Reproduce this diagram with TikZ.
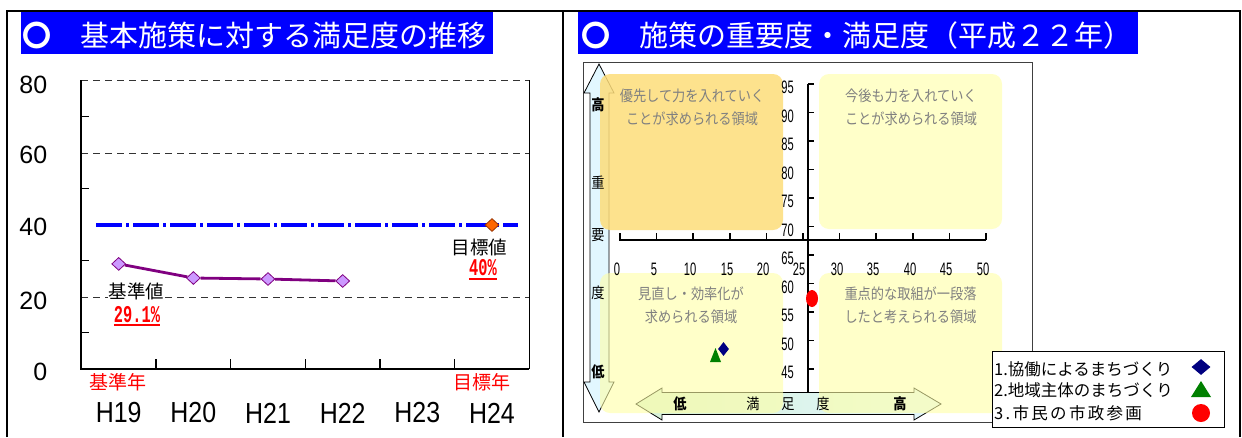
\documentclass[tikz,border=0pt]{standalone}
\usepackage{fontspec}
\setmainfont{Liberation Sans}
\newfontfamily\jpfont{Noto Sans CJK JP}
\newfontfamily\jpnarrow{Noto Sans CJK JP}[FakeStretch=0.88]
\newfontfamily\numnarrow{Liberation Sans}[FakeStretch=0.62]
\newfontfamily\numtall{Liberation Sans}[FakeStretch=0.86]
\newfontfamily\pctfont{Liberation Mono}[FakeStretch=0.64]
\usetikzlibrary{shapes.geometric,calc}
\newcommand\setfs[1]{\fontsize{#1}{#1}\selectfont}
\definecolor{titleblue}{HTML}{0000FF}
\definecolor{plum}{HTML}{800080}
\definecolor{lilac}{HTML}{CC99FF}
\definecolor{tgtorange}{HTML}{FF6600}
\definecolor{tgtedge}{HTML}{993300}
\definecolor{qorange}{HTML}{FDDD7A}
\definecolor{qyellow}{HTML}{FFFFA6}
\definecolor{qtext}{HTML}{808080}
\definecolor{navy}{HTML}{000080}
\definecolor{dgreen}{HTML}{008000}
\definecolor{arrowcyan}{HTML}{E2F7FF}
\definecolor{arrowgreen}{HTML}{D6F0D6}
\definecolor{ulred}{HTML}{FF0000}
\tikzset{
  frame/.style={line width=2pt},
  titlebox/.style={fill=titleblue, inner sep=0, anchor=north west},
  titletext/.style={text=white, inner sep=0, anchor=west},
  gridline/.style={draw=black!80, line width=0.9pt, dash pattern=on 7pt off 5pt},
  target/.style={draw=titleblue, line width=3.2pt, dash pattern=on 26pt off 4pt on 3pt off 4pt},
  ylab/.style={font=\setfs{25}, anchor=east, inner sep=0},
  hlab/.style={font=\numtall\setfs{29}, inner sep=0},
  redjp/.style={font=\jpfont\setfs{19}, text=red, inner sep=0},
  blackjp/.style={font=\jpfont\setfs{18.5}, inner sep=1pt},
  pct/.style={font=\pctfont\bfseries\setfs{24}, text=red, inner sep=0},
  uline/.style={draw=ulred, line width=2pt},
  pdiam/.style={diamond, draw=plum, fill=lilac, line width=0.8pt, minimum width=14pt, minimum height=13pt, inner sep=0},
  odiam/.style={diamond, draw=tgtedge, fill=tgtorange, line width=0.8pt, minimum width=14pt, minimum height=13pt, inner sep=0},
  qbox/.style={rounded corners=10pt, fill opacity=0.6},
  qtxt/.style={font=\jpnarrow\fontsize{15}{23}\selectfont, text=qtext, align=center, inner sep=0},
  alab/.style={font=\jpnarrow\setfs{15}, inner sep=0},
  numlab/.style={font=\numnarrow\setfs{18}, inner sep=0},
  legtxt/.style={font=\jpfont\setfs{16.5}, anchor=west, inner sep=0},
}
\begin{document}
\begin{tikzpicture}[x=1pt,y=-1pt]
\useasboundingbox (0,0) rectangle (1242,437);
\fill[white] (0,0) rectangle (1242,437);
% frame
\draw[frame] (7,437) -- (7,11) -- (1240,11) -- (1240,437);
\draw[frame] (563,11) -- (563,437);

% ---------------- left panel ----------------
\node[titlebox, minimum width=472pt, minimum height=42pt] (lbox) at (21,12) {};
\node[titletext, font=\jpfont\setfs{29}] (ltitle) at (22,35) {{\bfseries 〇}　基本施策に対する満足度の推移};

\draw[gridline] (81.4,80) -- (529.3,80);
\draw[gridline] (81.4,153.3) -- (529.3,153.3);
\draw[gridline] (81.4,297.3) -- (529.3,297.3);
\draw[target] (96,225) -- (518,225);
\draw[line width=2pt] (81.4,80) -- (81.4,368.7) -- (529.3,368.7);
\draw[line width=1.3pt] (529.3,80) -- (529.3,368.7);
\foreach \yy in {116.7,188.7,260.7,332.7} \draw[line width=1.2pt] (81.4,\yy) -- (88.6,\yy);
\foreach \i in {1,...,5} \draw[line width=1.2pt] ({81.4+74.65*\i},368.7) -- ({81.4+74.65*\i},359);

\node[ylab] (y80) at (47.5,85) {80};
\node[ylab] (y60) at (47.5,154.5) {60};
\node[ylab] (y40) at (47.5,227) {40};
\node[ylab] (y20) at (47.5,301) {20};
\node[ylab] (y0) at (47.5,372) {0};

\node[pdiam] (d19) at (118.7,263.9) {};
\node[pdiam] (d20) at (193.4,278) {};
\node[pdiam] (d21) at (268,279) {};
\node[pdiam] (d22) at (342.7,281) {};
\draw[plum, line width=2.8pt] (d19) -- (d20) -- (d21) -- (d22);
\node[odiam] (d24) at (492,225) {};

\node[blackjp, fill=white] (kijunchi) at (136.5,291.5) {基準値};
\node[pct] (v291) at (137,314.5) {29.1\%};
\draw[uline] ($(v291.south west)+(0,2.5)$) -- ($(v291.south east)+(0,2.5)$);
\node[blackjp] (mokuhyochi) at (479.5,247) {目標値};
\node[pct] (v40) at (483,268) {40\%};
\draw[uline] ($(v40.south west)+(0,2.5)$) -- ($(v40.south east)+(0,2.5)$);

\node[redjp] (kijunnen) at (118,382.5) {基準年};
\node[redjp] (mokuhyonen) at (482,382.5) {目標年};

\foreach \lab [count=\i from 0] in {H19,H20,H21,H22,H23,H24}
  \node[hlab] (hx\i) at ({118.7+74.65*\i},413) {\lab};

% ---------------- right panel ----------------
\node[titlebox, minimum width=560pt, minimum height=42pt] (rbox) at (578,12) {};
\node[titletext, font=\jpfont\setfs{29}] (rtitle) at (581,35) {{\bfseries 〇}　施策の重要度・満足度（平成２２年）};

\draw[draw=black!75, line width=1pt, fill=white] (583,62) rectangle (1032,422);

% vertical double arrow
\draw[fill=arrowcyan, line width=0.8pt] (599,64) -- (614,93) -- (609,93) -- (609,382) -- (614,382) -- (599,412) -- (584,382) -- (590,382) -- (590,93) -- (584,93) -- cycle;

% axes
\draw[line width=2.2pt] (619,240) -- (986,240);
\foreach \i in {0,...,10} \draw[line width=1.5pt] ({620+36.6*\i},240) -- ({620+36.6*\i},233);
\draw[line width=2.2pt] (808,84) -- (808,397);
\foreach \j in {0,...,11} \draw[line width=1.5pt] (808,{84+28.5*\j}) -- (814,{84+28.5*\j});

% horizontal double arrow
\path[draw=black, line width=0.8pt, left color=arrowgreen, right color=arrowcyan]
  (636,404) -- (662,388) -- (662,392.5) -- (914,392.5) -- (914,388) -- (941,404) -- (914,420) -- (914,414.5) -- (662,414.5) -- (662,420) -- cycle;

% quadrant boxes
\fill[qorange, qbox, fill opacity=0.85] (600,74) rectangle (783,230);
\fill[qyellow, qbox] (819,74) rectangle (1002,229);
\fill[qyellow, qbox] (600,273) rectangle (783,413);
\fill[qyellow, qbox] (819,273) rectangle (1002,413);

\node[qtxt] (qtl) at (692,107.5) {優先して力を入れていく\\ことが求められる領域};
\node[qtxt] (qtr) at (911,107.5) {今後も力を入れていく\\ことが求められる領域};
\node[qtxt] (qbl) at (691,305) {見直し・効率化が\\求められる領域};
\node[qtxt] (qbr) at (910.5,305) {重点的な取組が一段落\\したと考えられる領域};

% arrow labels
\node[alab, font=\jpnarrow\bfseries\setfs{15}] (vhi) at (598,105) {高};
\node[alab] (vju) at (598,183) {重};
\node[alab] (vyo) at (598,235) {要};
\node[alab] (vdo) at (598,293) {度};
\node[alab, font=\jpnarrow\bfseries\setfs{15}] (vlo) at (598,372) {低};
\node[alab, font=\jpnarrow\bfseries\setfs{15}] (hlo) at (680,404) {低};
\node[alab] (hman) at (753,404) {満};
\node[alab] (hsoku) at (788,404) {足};
\node[alab] (hdo) at (823,404) {度};
\node[alab, font=\jpnarrow\bfseries\setfs{15}] (hhi) at (900,404) {高};

% axis numbers
\foreach \v/\lx in {0/617,5/654,10/690,15/727,20/763,25/799,30/837,35/873,40/910,45/946,50/983}
  \node[numlab] (hn\v) at (\lx,269) {\v};
\foreach \v [count=\j from 0] in {95,90,85,80,75,70,65,60,55,50,45}
  \node[numlab, anchor=east] (vn\v) at (794,{84+28.5*\j+3.5}) {\v};

% data points
\node[ellipse, fill=red, minimum width=12pt, minimum height=17pt, inner sep=0] (p3) at (812,298.5) {};
\node[diamond, fill=navy, minimum width=11pt, minimum height=14pt, inner sep=0] (p1) at (723.5,349) {};
\fill[dgreen] (710,362) -- (715.5,348) -- (721,362) -- cycle;

% legend
\node[draw=black, line width=0.9pt, fill=white, minimum width=232pt, minimum height=76pt, anchor=north west, inner sep=0] (legend) at (992,351) {};
\node[legtxt] (l1) at (994,369.5) {1.協働によるまちづくり};
\node[legtxt] (l2) at (994,390.5) {2.地域主体のまちづくり};
\node[legtxt, font=\jpfont\setfs{16.5}\addfontfeature{LetterSpace=14}] (l3) at (994,413) {3.市民の市政参画};
\node[diamond, fill=navy, minimum width=19pt, minimum height=16pt, inner sep=0] (m1) at (1201,367) {};
\fill[dgreen] (1191,397) -- (1201,381) -- (1211,397) -- cycle;
\node[circle, fill=red, minimum size=18pt, inner sep=0] (m3) at (1201,413) {};
\end{tikzpicture}
\end{document}
